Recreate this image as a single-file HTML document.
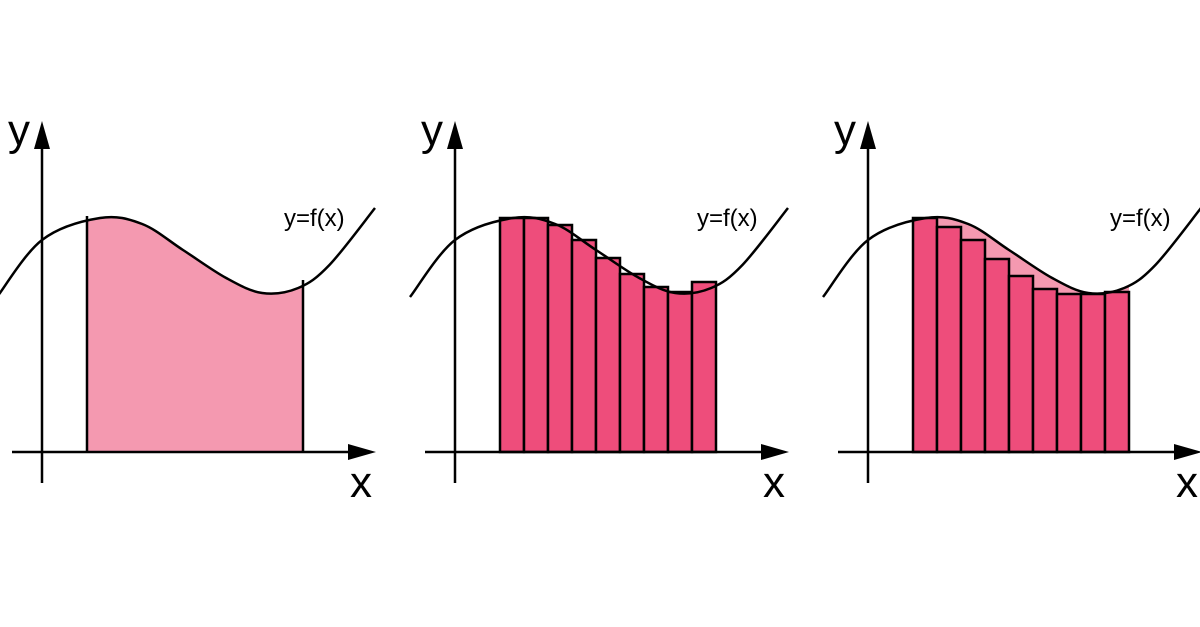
<!DOCTYPE html>
<html><head><meta charset="utf-8"><style>
html,body{margin:0;padding:0;background:#fff;}
svg{display:block;font-family:"Liberation Sans",sans-serif;}
</style></head><body>
<svg id="c" width="1200" height="627" viewBox="0 0 1200 627" xmlns="http://www.w3.org/2000/svg"></svg>
<script>
const panelAxes = [42, 455, 868];
const curveU = [-3.75, -1.875, 0.54, 2.3, 4, 5.8, 7.3, 8.8, 10.1, 12];
const curveV = [15.5, 21.2, 23.4, 22.8, 20.2, 17.4, 15.9, 16.4, 18.7, 24.4];
const upperBars = [23.4, 23.4, 22.7, 21.2, 19.4, 17.8, 16.5, 16.0, 17.0];
const lowerBars = [23.4, 22.5, 21.2, 19.3, 17.6, 16.3, 15.8, 15.8, 16.0];
const areaRange = [0, 9];

const NS = "http://www.w3.org/2000/svg";
const svg = document.getElementById('c');
const baseY = 452;
function yS(v){ return baseY - v*10; }
function xS(ax,u){ return ax + 45 + u*24; }
function mk(tag, attrs, parent){
  const e = document.createElementNS(NS, tag);
  for (const k in attrs) e.setAttribute(k, attrs[k]);
  (parent||svg).appendChild(e); return e;
}
function curvePath(ax){
  const p = curveU.map((u,i)=>[xS(ax,u), yS(curveV[i])]);
  let d = `M${p[0][0]},${p[0][1]}`;
  for (let i=0;i<p.length-1;i++){
    const p0=p[Math.max(0,i-1)], p1=p[i], p2=p[i+1], p3=p[Math.min(p.length-1,i+2)];
    const c1=[p1[0]+(p2[0]-p0[0])/6, p1[1]+(p2[1]-p0[1])/6];
    const c2=[p2[0]-(p3[0]-p1[0])/6, p2[1]-(p3[1]-p1[1])/6];
    d += ` C${c1[0]},${c1[1]} ${c2[0]},${c2[1]} ${p2[0]},${p2[1]}`;
  }
  return {d, first:p[0], last:p[p.length-1]};
}
const defs = mk('defs', {});
panelAxes.forEach((ax, pi)=>{
  const g = mk('g', {});
  
  
  const cp = curvePath(ax);
  if (pi !== 1){
    const clip = mk('clipPath', {id:'clip'+pi}, defs);
    mk('rect', {x:xS(ax,areaRange[0]), y:0, width:(areaRange[1]-areaRange[0])*24, height:baseY}, clip);
    const area = mk('path', {d: cp.d + ` L${cp.last[0]},${baseY} L${cp.first[0]},${baseY} Z`, fill:'#f499b0', 'clip-path':`url(#clip${pi})`}, g);
    
    
    if (pi===0){
      const x0=xS(ax,areaRange[0]), x1=xS(ax,areaRange[1]);
      const b1 = mk('line',{x1:x0,y1:baseY,x2:x0,y2:yS(23.6),stroke:'#000','stroke-width':2.5},g);
      
      
      const b2 = mk('line',{x1:x1,y1:baseY,x2:x1,y2:yS(17.2),stroke:'#000','stroke-width':2.5},g);
      
      
    }
  }
  const bars = pi===1 ? upperBars : pi===2 ? lowerBars : null;
  if (bars){
    bars.forEach((v,i)=>{
      const r = mk('rect', {x:xS(ax,i), y:yS(v), width:24, height:baseY-yS(v), fill:'#ee4d7b', stroke:'#000', 'stroke-width':2.5}, g);
      
      
    });
  }
  const c = mk('path', {d:cp.d, fill:'none', stroke:'#000', 'stroke-width':2.5}, g);
  
  
  const ya = mk('line', {x1:ax, y1:483, x2:ax, y2:140, stroke:'#000', 'stroke-width':2.5}, g);
  
  
  mk('polygon', {points:`${ax},121 ${ax-8},149 ${ax+8},149`, fill:'#000'}, g);
  const xa = mk('line', {x1:ax-30, y1:baseY, x2:ax+315, y2:baseY, stroke:'#000', 'stroke-width':2.5}, g);
  
  
  mk('polygon', {points:`${ax+334},${baseY} ${ax+306},${baseY-8} ${ax+306},${baseY+8}`, fill:'#000'}, g);
  const yl = mk('text', {x:ax-34, y:145, 'font-size':44}, g); yl.textContent='y';
  
  
  const xl = mk('text', {x:ax+308, y:497, 'font-size':44}, g); xl.textContent='x';
  
  
  const fl = mk('text', {x:ax+242, y:226, 'font-size':24}, g); fl.textContent='y=f(x)';
  
  
});
</script>
</body></html>
